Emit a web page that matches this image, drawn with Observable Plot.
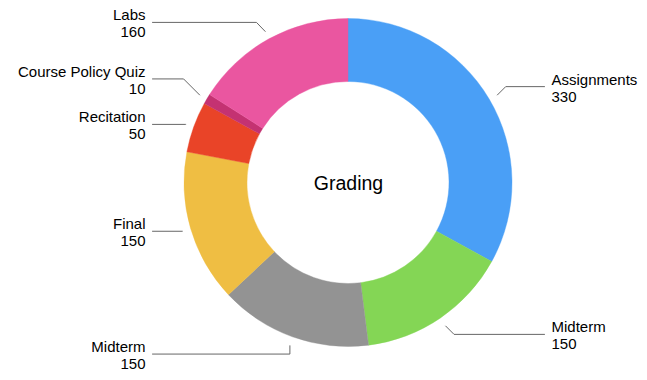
<!DOCTYPE html>
<html>
<head>
<meta charset="utf-8">
<script src="https://cdn.jsdelivr.net/npm/d3@7"></script>
<script src="https://cdn.jsdelivr.net/npm/@observablehq/plot@0.6"></script>
<style>
  html, body { margin: 0; padding: 0; background: #fff; }
  #chart { width: 647px; height: 380px; }
</style>
</head>
<body>
<div id="chart"></div>
<script>
// ---- data ----
const categories = ["Assignments", "Midterm", "Midterm", "Final", "Recitation", "Course Policy Quiz", "Labs"];
const values = [330, 150, 150, 150, 50, 10, 160];
const title = "Grading";

// ---- styles ----
const colors = ["#4A9FF6", "#84D655", "#939393", "#EFBE43", "#E94428", "#C43272", "#EA56A0"];

// ---- layout (pixels) ----
const outerR = 164, innerR = 101, leaderR = 173;
const elbows = [[8.3, -8.3], [8.3, 8.3], [0, 8.3], [0, 0], [0, 0], [-16, -16], [-8.7, -9]];
const lineEndX = 196, labelX = 203;

const W = 647, H = 380;
const arcs = d3.pie().sort(null).value(d => d).startAngle(0).endAngle(2 * Math.PI)(values);

// leader lines and labels
const leaders = [];
const labels = [];
arcs.forEach((a, i) => {
  const m = (a.startAngle + a.endAngle) / 2;
  const sx = leaderR * Math.sin(m), sy = -leaderR * Math.cos(m);
  const ex = sx + elbows[i][0], ey = sy + elbows[i][1];
  const right = sx > 0;
  const fx = right ? lineEndX : -lineEndX;
  leaders.push({x: sx, y: sy, k: i}, {x: ex, y: ey, k: i}, {x: fx, y: ey, k: i});
  labels.push({x: right ? labelX : -labelX, y: ey + 15, text: categories[i] + "\n" + values[i], anchor: right ? "start" : "end"});
});

function donut(...args) {
  const scales = args.find(a => a && typeof a.x === "function" && typeof a.y === "function");
  const cx = scales.x(0), cy = scales.y(0);
  const k = Math.abs(scales.x(1) - scales.x(0));
  const arcGen = d3.arc().innerRadius(innerR * k).outerRadius(outerR * k);
  const g = d3.create("svg:g").attr("transform", `translate(${cx},${cy})`);
  g.selectAll("path").data(arcs).join("path")
    .attr("d", arcGen)
    .attr("fill", (d, i) => colors[i])
    .attr("stroke", (d, i) => colors[i])
    .attr("stroke-width", 0.4);
  return g.node();
}

const font = "'Liberation Sans', Arial, Helvetica, sans-serif";
const chart = Plot.plot({
  width: W,
  height: H,
  margin: 0,
  x: {domain: [-348, W - 348], range: [0, W], axis: null},
  y: {domain: [-182.5, H - 182.5], range: [0, H], axis: null},
  style: {fontFamily: font, background: "#fff", color: "#000"},
  marks: [
    donut,
    Plot.line(leaders, {x: "x", y: "y", z: "k", stroke: "#666", strokeWidth: 1, curve: "linear"}),
    Plot.text(labels.filter(d => d.anchor === "start"), {x: "x", y: "y", text: "text", textAnchor: "start", lineAnchor: "bottom", lineHeight: 17 / 15, fontSize: 15, fill: "#000"}),
    Plot.text(labels.filter(d => d.anchor === "end"), {x: "x", y: "y", text: "text", textAnchor: "end", lineAnchor: "bottom", lineHeight: 17 / 15, fontSize: 15, fill: "#000"}),
    Plot.text([title], {x: () => 0, y: () => 7, text: d => d, textAnchor: "middle", lineAnchor: "bottom", fontSize: 19.5, fill: "#000"})
  ]
});
document.getElementById("chart").appendChild(chart);
</script>
</body>
</html>
